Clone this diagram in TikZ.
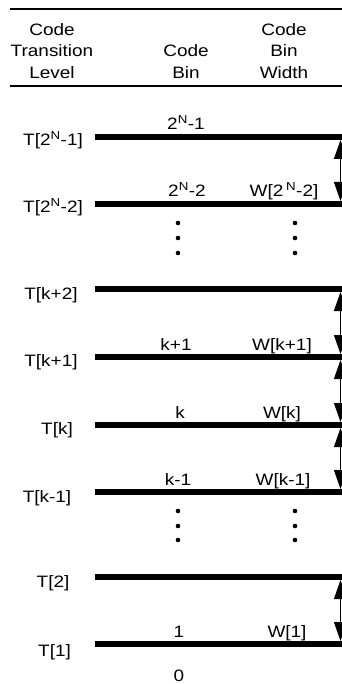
\documentclass[tikz,border=0pt]{standalone}
\usepackage{fontspec}
\setmainfont{Liberation Sans}[FakeStretch=1.15]
\usetikzlibrary{arrows.meta}
\tikzset{
  lbl/.style={font=\fontsize{16.5}{19}\selectfont, inner sep=0pt, anchor=base},
  lvl/.style={line width=6pt},
  rule/.style={line width=2pt},
  wid/.style={line width=1.2pt, shorten <=3pt, shorten >=3pt,
    {Triangle[length=19pt,width=13pt]}-{Triangle[length=19pt,width=13pt]}},
  vdot/.style={fill=black, draw=none}
}
\newcommand{\sN}{\textsuperscript{N}}
\begin{document}
\begin{tikzpicture}[x=1pt,y=-1pt]
\useasboundingbox (0,0) rectangle (342,684);
\clip (0,0) rectangle (342,684);
% header
\draw[rule] (10,9) -- (345,9);
\draw[rule] (10,86) -- (345,86);
\node[lbl] (h1a) at (52,36) {Code};
\node[lbl] (h1b) at (52,57) {Transition};
\node[lbl] (h1c) at (52,79) {Level};
\node[lbl] (h2a) at (186,57) {Code};
\node[lbl] (h2b) at (186,79) {Bin};
\node[lbl] (h3a) at (284,36) {Code};
\node[lbl] (h3b) at (284,57) {Bin};
\node[lbl] (h3c) at (284,79) {Width};
% level lines
\foreach \i/\y in {1/137,2/204,3/289,4/357,5/425,6/492,7/577,8/644}{
  \coordinate (a\i) at (95,\y);
  \coordinate (b\i) at (345,\y);
  \coordinate (e\i) at (340.5,\y);
  \draw[lvl] (a\i) -- (b\i);
}
% transition level labels
\node[lbl] (t1) at (53,146) {T[2\sN-1]};
\node[lbl] (t2) at (53,213) {T[2\sN-2]};
\node[lbl] (t3) at (51,299) {T[k+2]};
\node[lbl] (t4) at (51,366) {T[k+1]};
\node[lbl] (t5) at (57,434) {T[k]};
\node[lbl] (t6) at (47,502) {T[k-1]};
\node[lbl] (t7) at (53,587) {T[2]};
\node[lbl] (t8) at (54.5,656) {T[1]};
% code bin labels
\node[lbl] (c1) at (186,130) {2\sN-1};
\node[lbl] (c2) at (187,197) {2\sN-2};
\node[lbl] (c4) at (176,350) {k+1};
\node[lbl] (c5) at (180,418) {k};
\node[lbl] (c6) at (178,485) {k-1};
\node[lbl] (c8) at (179,637) {1};
\node[lbl] (c9) at (179,681) {0};
% width labels
\node[lbl] (w2) at (284,197) {W[2\,\sN-2]};
\node[lbl] (w4) at (282,350) {W[k+1]};
\node[lbl] (w5) at (282,418) {W[k]};
\node[lbl] (w6) at (283,485) {W[k-1]};
\node[lbl] (w8) at (287,637) {W[1]};
% vertical ellipses
\foreach \x in {178,295}{
  \foreach \y in {223,238,253,511,526,540}{
    \fill[vdot] (\x,\y) circle (2.3);
  }
}
% width arrows
\draw[wid] (e1) -- (e2);
\draw[wid] (e3) -- (e4);
\draw[wid] (e4) -- (e5);
\draw[wid] (e5) -- (e6);
\draw[wid] (e7) -- (e8);
\end{tikzpicture}
\end{document}
